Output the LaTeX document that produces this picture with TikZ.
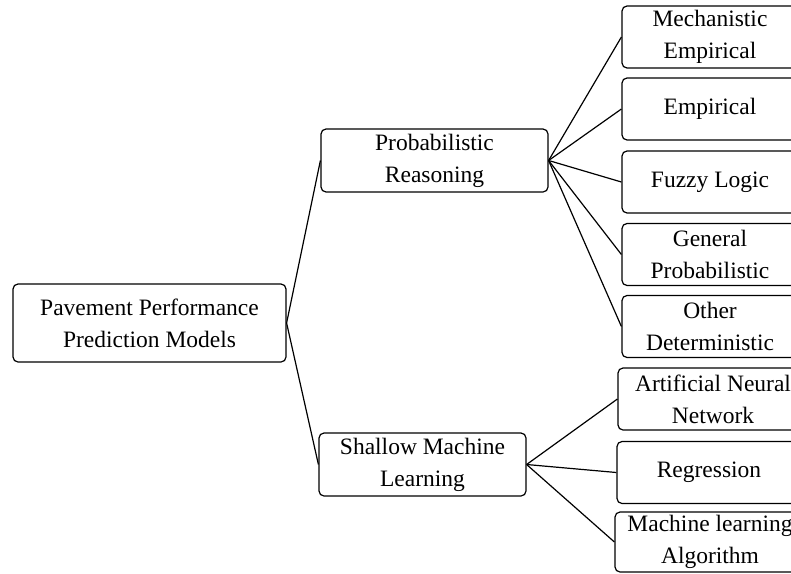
\documentclass[tikz,border=0pt]{standalone}
\usepackage{fontspec}
\setmainfont{Liberation Serif}
\begin{document}
\begin{tikzpicture}[x=1pt,y=-1pt,
    box/.style={draw, rounded corners=5pt, line width=1.2pt, align=center,
      inner sep=0pt, font=\fontsize{23.5}{32}\selectfont},
    leaf/.style={box, minimum width=176pt, minimum height=62pt},
    link/.style={line width=1.2pt}]
  \useasboundingbox (0,0) rectangle (791,573);
  \clip (0,0) rectangle (791,573);
  % root and middle level
  \node[box, minimum width=273pt, minimum height=78pt] (ppm) at (149.5,323) {Pavement Performance\\Prediction Models};
  \node[box, minimum width=227pt, minimum height=63pt] (prob) at (434.5,160.5) {Probabilistic\\Reasoning};
  \node[box, minimum width=207pt, minimum height=63pt] (sml) at (422.5,464.5) {Shallow Machine\\Learning};
  % leaves of probabilistic reasoning
  \node[leaf] (mech) at (710,37) {Mechanistic\\Empirical};
  \node[leaf] (emp) at (710,109) {Empirical};
  \node[leaf] (fuzzy) at (710,182) {Fuzzy Logic};
  \node[leaf] (genp) at (710,254.5) {General\\Probabilistic};
  \node[leaf] (odet) at (710,326.5) {Other\\Deterministic};
  % leaves of shallow machine learning
  \node[leaf, minimum width=190pt] (ann) at (713,399) {Artificial Neural\\Network};
  \node[leaf, minimum width=184pt] (regr) at (709,472.5) {Regression};
  \node[leaf, minimum width=190pt, minimum height=60pt] (mla) at (710,542) {Machine learning\\Algorithm};
  % connectors
  \draw[link] (ppm.east) -- (prob.west);
  \draw[link] (ppm.east) -- (sml.west);
  \foreach \leafname in {mech,emp,fuzzy,genp,odet}
    \draw[link] (prob.east) -- (\leafname.west);
  \foreach \leafname in {ann,regr,mla}
    \draw[link] (sml.east) -- (\leafname.west);
\end{tikzpicture}
\end{document}
